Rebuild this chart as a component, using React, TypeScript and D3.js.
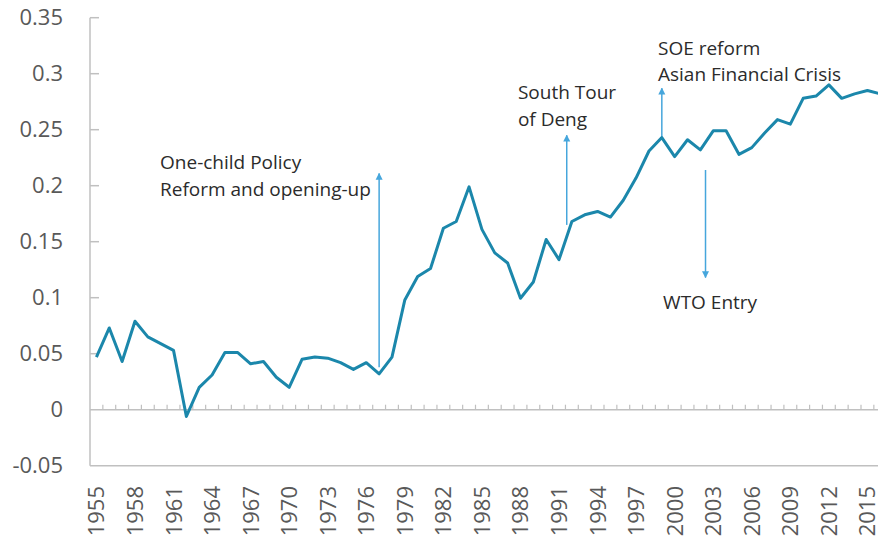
import React from 'react';
import * as d3 from 'd3';

// Years on the category axis
const years = d3.range(1955, 2017);

// Series values
const values = [
  0.047, 0.073, 0.043, 0.079, 0.065, 0.059, 0.053, -0.006, 0.02, 0.031,
  0.051, 0.051, 0.041, 0.043, 0.029, 0.02, 0.045, 0.047, 0.046, 0.042,
  0.036, 0.042, 0.032, 0.047, 0.098, 0.119, 0.126, 0.162, 0.168, 0.199,
  0.161, 0.14, 0.131, 0.0995, 0.114, 0.152, 0.134, 0.168, 0.174, 0.177,
  0.172, 0.187, 0.207, 0.231, 0.243, 0.226, 0.241, 0.232, 0.249, 0.249,
  0.228, 0.234, 0.247, 0.259, 0.255, 0.278, 0.28, 0.29, 0.278, 0.282,
  0.285, 0.282,
];

const yTicks = [-0.05, 0, 0.05, 0.1, 0.15, 0.2, 0.25, 0.3, 0.35];
const yTickLabels = ['-0.05', '0', '0.05', '0.1', '0.15', '0.2', '0.25', '0.3', '0.35'];
const xLabelYears = d3.range(1955, 2017, 3);

// annotations: arrow at (year, from -> to), text block at (textYear, textValue)
const annoLines = [
  ['One-child Policy', 'Reform and opening-up'],
  ['South Tour', 'of Deng'],
  ['SOE reform', 'Asian Financial Crisis'],
  ['WTO Entry'],
];
const annoArrowYear = [1977.0, 1991.6, 1999.0, 2002.4];
const annoArrowFrom = [0.038, 0.165, 0.2435, 0.214];
const annoArrowTo = [0.211, 0.245, 0.287, 0.118];
const annoTextYear = [1959.95, 1987.8, 1998.7, 1999.1];
const annoTextValue = [0.2145, 0.2775, 0.317, 0.0895];

const W = 878;
const H = 540;
const step = 12.85;
const left = 90;

const LINE = '#1b87ab';
const ARROW = '#46a6dc';
const AXIS = '#c0c0c0';
const TICK_TEXT = '#595959';
const FONT = '"Open Sans", sans-serif';

export default function App() {
  const x = d3
    .scaleBand<number>()
    .domain(years)
    .range([left, left + years.length * step])
    .paddingInner(0)
    .paddingOuter(0);
  const y = d3.scaleLinear().domain([-0.05, 0.35]).range([465.7, 17.7]);
  const yearX = (yr: number) => (x(1955) as number) + (yr - 1955 + 0.5) * step;

  const line = d3
    .line<number>()
    .x((_, i) => (x(years[i]) as number) + x.bandwidth() / 2)
    .y(d => y(d))
    .curve(d3.curveLinear);

  const right = left + years.length * step;

  return (
    <svg
      width={W}
      height={H}
      style={{ position: 'absolute', left: 0, top: 0, background: '#fff' }}
      fontFamily={FONT}
    >
      <defs>
        <marker id="ah" viewBox="0 0 10 10" refX="9" refY="5" markerWidth="7" markerHeight="8" orient="auto" markerUnits="userSpaceOnUse">
          <path d="M0,0 L10,5 L0,10 z" fill={ARROW} />
        </marker>
      </defs>

      {/* y axis */}
      <line x1={left} x2={left} y1={y(0.35)} y2={y(-0.05)} stroke={AXIS} strokeWidth={1.5} />
      {yTicks.map((t, i) => (
        <g key={t}>
          {t !== 0 && t !== -0.05 && (
            <line x1={left} x2={left + 9} y1={y(t)} y2={y(t)} stroke={AXIS} strokeWidth={1.5} />
          )}
          <text x={63} y={y(t)} dy="0.35em" textAnchor="end" fontSize={22} fill={TICK_TEXT}>
            {yTickLabels[i]}
          </text>
        </g>
      ))}

      {/* bottom border and zero line with category ticks */}
      <line x1={left} x2={right} y1={y(-0.05)} y2={y(-0.05)} stroke={AXIS} strokeWidth={1.5} />
      <line x1={left} x2={right} y1={y(0)} y2={y(0)} stroke={AXIS} strokeWidth={1.5} />
      {years.map(yr => (
        <line key={yr} x1={(x(yr) as number) + step} x2={(x(yr) as number) + step} y1={y(0)} y2={y(0) - 5} stroke={AXIS} strokeWidth={1.2} />
      ))}

      {/* year labels */}
      {xLabelYears.map(yr => {
        const cx = (x(yr) as number) + x.bandwidth() / 2 + 8;
        return (
          <text key={yr} transform={`translate(${cx},486) rotate(-90)`} textAnchor="end" fontSize={22} fill={TICK_TEXT}>
            {yr}
          </text>
        );
      })}

      {/* arrows */}
      {annoArrowYear.map((yr, i) => (
        <line key={i} x1={yearX(yr)} x2={yearX(yr)} y1={y(annoArrowFrom[i])} y2={y(annoArrowTo[i])} stroke={ARROW} strokeWidth={1.5} markerEnd="url(#ah)" />
      ))}

      {/* series */}
      <path d={line(values) ?? ''} fill="none" stroke={LINE} strokeWidth={3} strokeLinejoin="round" />

      {/* annotation text */}
      {annoLines.map((ls, i) => (
        <text key={i} x={yearX(annoTextYear[i])} y={y(annoTextValue[i])} fontSize={19} fill="#2b2b2b">
          {ls.map((l, j) => (
            <tspan key={j} x={yearX(annoTextYear[i])} dy={j === 0 ? 0 : 26.7}>
              {l}
            </tspan>
          ))}
        </text>
      ))}
    </svg>
  );
}
